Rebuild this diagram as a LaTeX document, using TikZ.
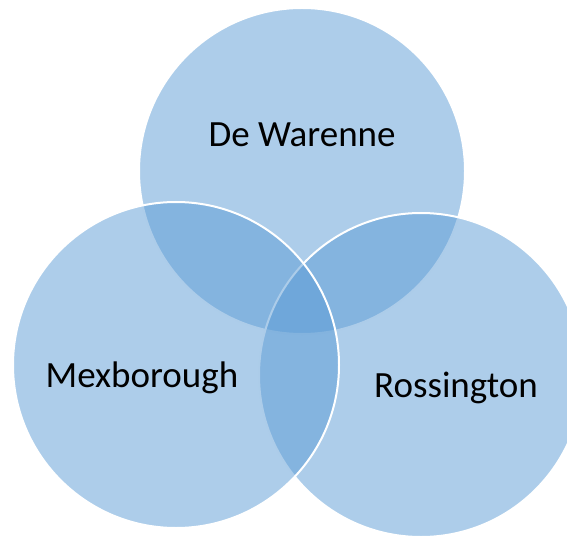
\documentclass[tikz,border=0pt]{standalone}
\usepackage{fontspec}
\setmainfont{Carlito}
\definecolor{vennblue}{HTML}{5B9BD5}
\begin{document}
\begin{tikzpicture}[x=1pt,y=-1pt,
  venn/.style={circle, inner sep=0pt, fill=vennblue, fill opacity=0.5,
    draw=white, draw opacity=1, line width=2pt},
  lbl/.style={anchor=base, inner sep=0pt, text=black, font=\fontsize{37}{44}\selectfont}]
\useasboundingbox (0,0) rectangle (567,537);
\clip (0,0) rectangle (567,537);
\node[venn, minimum size=326pt] (top) at (302,171) {};
\node[venn, minimum size=324pt] (right) at (421,375) {};
\node[venn, minimum size=326pt] (left) at (176,365) {};
\node[lbl] (tlabel) at (302,147) {De Warenne};
\node[lbl] (llabel) at (142,387) {Mexborough};
\node[lbl] (rlabel) at (456,397) {Rossington};
\end{tikzpicture}
\end{document}
